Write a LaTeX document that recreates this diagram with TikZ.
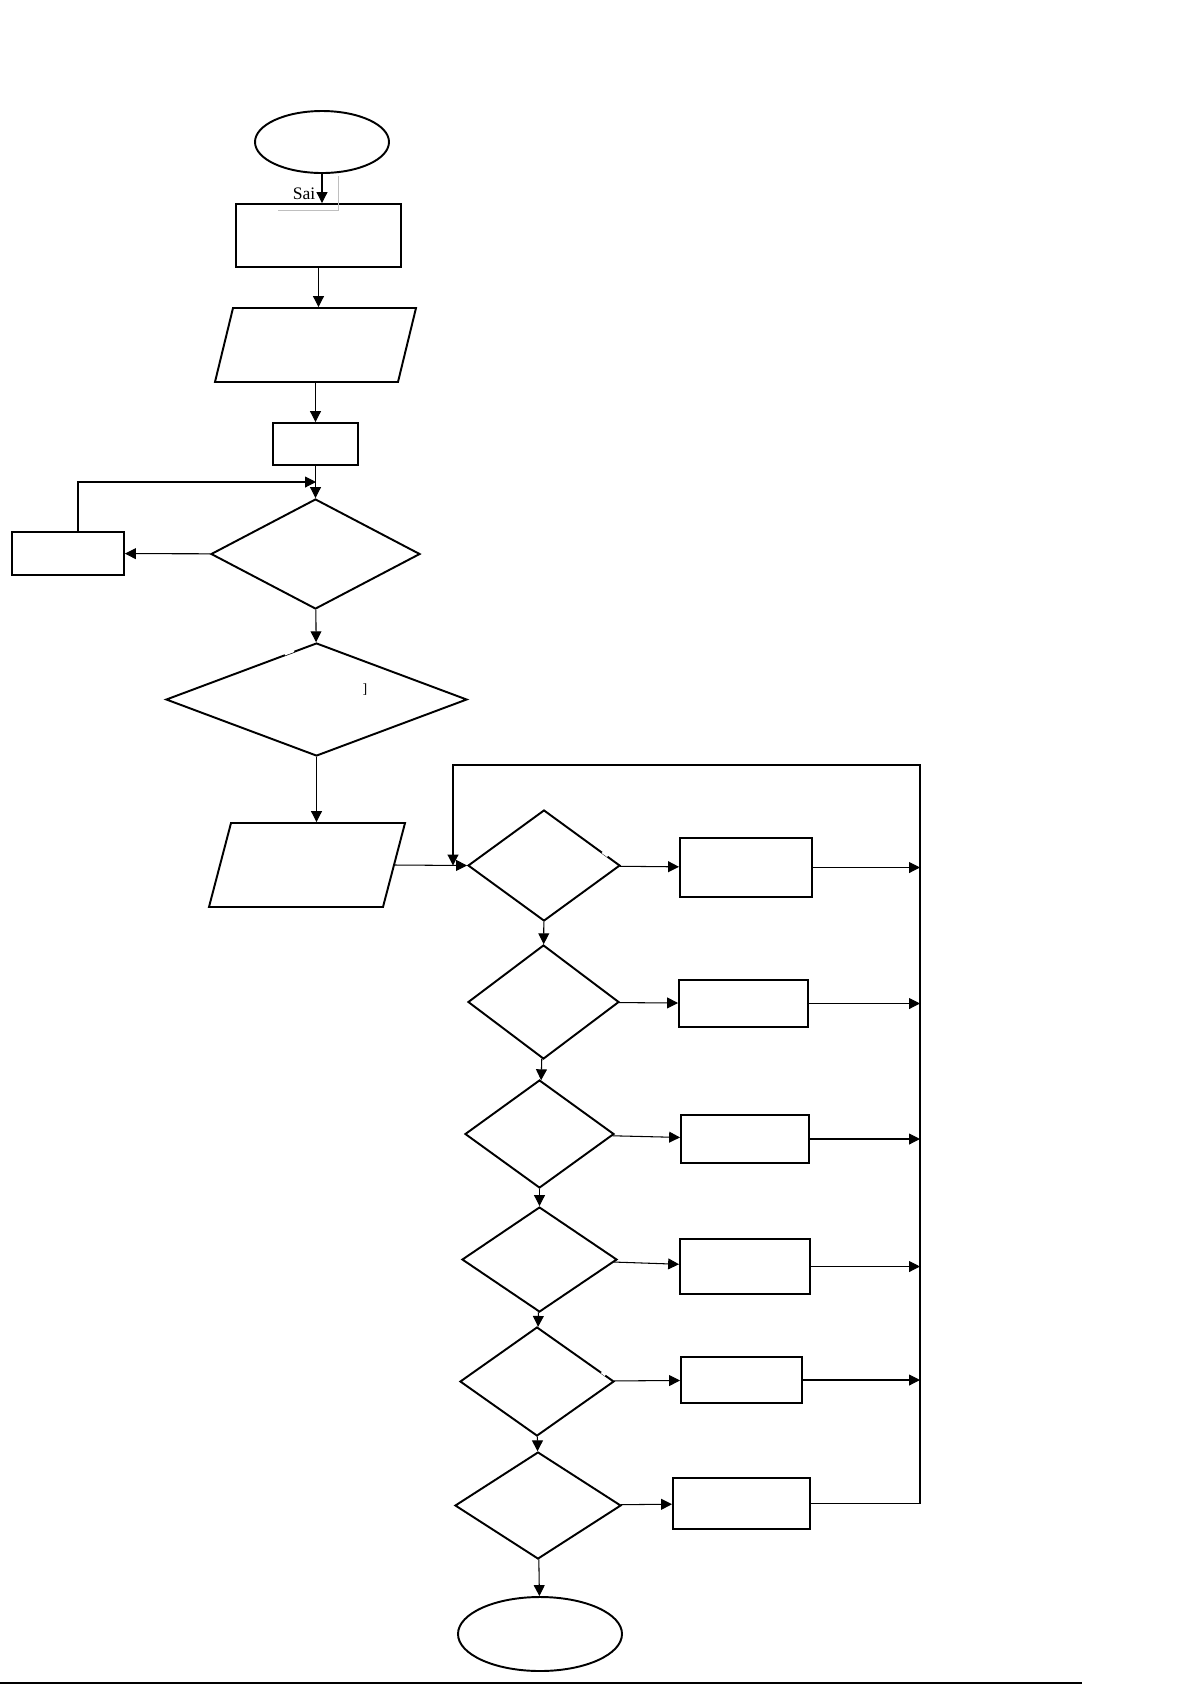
\documentclass[tikz,border=0pt]{standalone}
\usepackage{fontspec}
\setmainfont{Liberation Serif}
\usetikzlibrary{shapes.geometric,arrows.meta,calc}
\begin{document}
\begin{tikzpicture}[x=0.02cm,y=-0.02cm,>={Triangle[length=6.2pt,width=6.2pt]},
	every path/.style={line width=0.6pt},
	box/.style={draw,line width=1.1pt,inner sep=0pt},
	proc/.style 2 args={box,rectangle,minimum width=#1*0.02cm,minimum height=#2*0.02cm},
	dec/.style 2 args={box,diamond,minimum width=#1*0.02cm,minimum height=#2*0.02cm},
	term/.style 2 args={box,ellipse,minimum width=#1*0.02cm,minimum height=#2*0.02cm},
	io/.style n args={4}{box,trapezium,trapezium left angle=#3,trapezium right angle=#4,
		text width=#1,text height=#2,text depth=0pt},
	gap/.style={white,line width=1.6pt}]
	\useasboundingbox (0,0) rectangle (1192,1685);
	% upper part
	\node[term={134}{62}] (start) at (322,142) {};
	\node[proc={165}{63}] (init) at (318.5,235.5) {};
	\node[io={3.3cm}{1.48cm}{76.3}{103.7}] (input1) at (315.5,345) {};
	\node[proc={85}{42}] (set) at (315.5,444) {};
	\node[dec={209}{110}] (check) at (315.5,554) {};
	\node[proc={112}{43}] (err) at (68,553.5) {};
	\node[dec={301}{113}] (test) at (316.5,699.5) {};
	\node[io={3.04cm}{1.68cm}{75.3}{104.7}] (input2) at (307,865) {};
	% text left over from the source
	\node[font=\fontsize{10}{12}\selectfont,inner sep=0pt] (sai) at (304,194) {Sai};
	\node[font=\fontsize{8}{10}\selectfont,inner sep=0pt] (brk) at (365,690) {]};
	\draw[black!25,line width=0.4pt] (278,210) -- (338,210) -- (338,176);
	% menu choices
	\node[dec={152}{111}] (c1) at (544,865.5) {};
	\node[proc={132}{59}] (a1) at (746,867.5) {};
	\node[dec={151}{114}] (c2) at (543.5,1002) {};
	\node[proc={129}{47}] (a2) at (743.5,1003.5) {};
	\node[dec={149}{108}] (c3) at (539.5,1134) {};
	\node[proc={128}{48}] (a3) at (745,1139) {};
	\node[dec={155}{105}] (c4) at (539.5,1259.5) {};
	\node[proc={130}{55}] (a4) at (745,1266.5) {};
	\node[dec={154}{109}] (c5) at (537,1381.5) {};
	\node[proc={121}{46}] (a5) at (741.5,1380) {};
	\node[dec={166}{107}] (c6) at (538,1505.5) {};
	\node[proc={137}{51}] (a6) at (741.5,1503.5) {};
	\node[term={164}{74}] (stop) at (540,1634) {};
	\coordinate (rtop) at (920,765);
	\coordinate (ltop) at (453,765);
	\coordinate (loopin) at (316,482);
	% small breaks in the outlines
	\draw[gap] ($(test.west)!0.79!(test.north)$) -- ($(test.west)!0.85!(test.north)$);
	\draw[gap] ($(c1.north)!0.76!(c1.east)$) -- ($(c1.north)!0.83!(c1.east)$);
	\draw[gap] ($(c5.north)!0.83!(c5.east)$) -- ($(c5.north)!0.88!(c5.east)$);
	% connectors
	\draw[->] (start.south) -- (start.south |- init.north);
	\draw[->] (init.south) -- (init.south |- input1.north);
	\draw[->] (input1.south -| set.north) -- (set.north);
	\draw[->] (set) -- (check);
	\draw[->] (check) -- (err);
	\draw[->] ([xshift=0.2cm]err.north) |- (loopin);
	\draw[->] (check) -- (test);
	\draw[->] (test.south) -- (test.south |- input2.north);
	\draw[->] (input2.east) -- (c1.west);
	\foreach \from/\to in {c1/c2,c2/c3,c3/c4,c4/c5,c5/c6,c6/stop}
	\draw[->] (\from) -- (\to);
	\foreach \from/\to in {c1/a1,c2/a2,c3/a3,c4/a4,c5/a5,c6/a6}
	\draw[->] (\from) -- (\to);
	\foreach \from in {a1,a2,a3,a4,a5}
	\draw[->] (\from.east) -- (\from.east -| rtop);
	\draw (a6.east) -- (a6.east -| rtop);
	\draw[->] (a6.east -| rtop) -- (rtop) -- (ltop) -- (ltop |- c1.west);
	% footer rule
	\draw[line width=0.9pt] (0,1683) -- (1082,1683);
\end{tikzpicture}
\end{document}
